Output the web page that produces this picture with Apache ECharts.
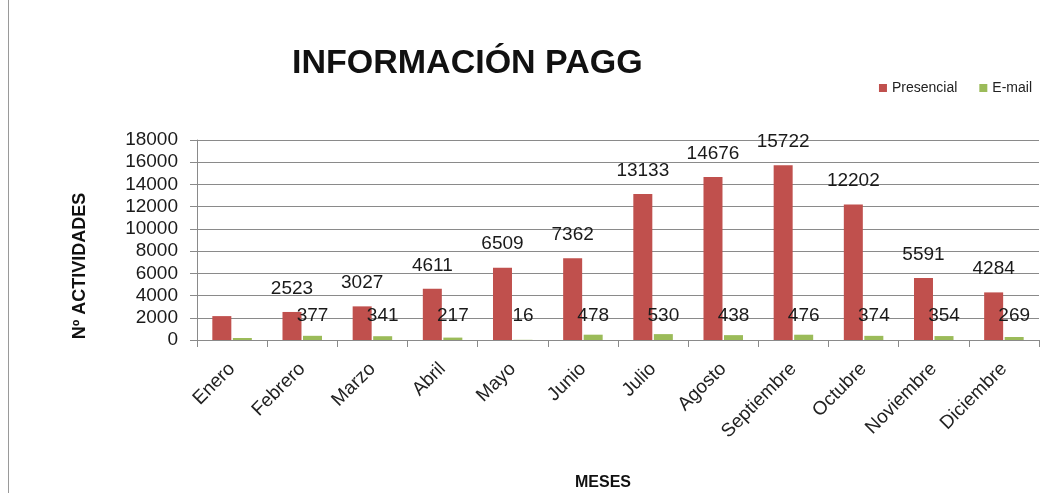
<!DOCTYPE html>
<html>
<head>
<meta charset="utf-8">
<script src="https://cdn.jsdelivr.net/npm/echarts@6/dist/echarts.min.js"></script>
<style>
  html, body { margin: 0; padding: 0; background: #fff; }
  #chart { width: 1061px; height: 493px; }
</style>
</head>
<body>
<div id="chart"></div>
<script>
// monthly activities
const months = ["Enero", "Febrero", "Marzo", "Abril", "Mayo", "Junio", "Julio",
  "Agosto", "Septiembre", "Octubre", "Noviembre", "Diciembre"];
const presencial = [2150, 2523, 3027, 4611, 6509, 7362, 13133, 14676, 15722, 12202, 5591, 4284];
const email = [180, 377, 341, 217, 16, 478, 530, 438, 476, 374, 354, 269];
// Enero has no labels in the original
const hideLabel = [true, false, false, false, false, false, false, false, false, false, false, false];

const font = "Liberation Sans, Arial, sans-serif";

function withLabels(values) {
  return values.map((v, i) => hideLabel[i] ? { value: v, label: { show: false } } : v);
}

let chart = echarts.init(document.getElementById("chart"));
chart.setOption({
  animation: false,
  textStyle: { fontFamily: font },
  title: {
    text: "INFORMACIÓN PAGG",
    left: 287,
    top: 42,
    textStyle: { fontSize: 34, fontWeight: "bold", color: "#111", fontFamily: font }
  },
  legend: {
    right: 24,
    top: 76,
    itemWidth: 8,
    itemHeight: 8,
    itemGap: 22,
    icon: "rect",
    textStyle: { fontSize: 14, color: "#222", fontFamily: font },
    data: ["Presencial", "E-mail"]
  },
  grid: { left: 197, right: 22, top: 140, bottom: 153, containLabel: false },
  xAxis: {
    type: "category",
    data: months,
    axisLine: { lineStyle: { color: "#8a8a8a", width: 1 } },
    axisTick: { show: true, length: 7, lineStyle: { color: "#8a8a8a" } },
    axisLabel: { rotate: 45, fontSize: 19, color: "#222", margin: 26, fontFamily: font, interval: 0 }
  },
  yAxis: {
    type: "value",
    min: 0,
    max: 18000,
    interval: 2000,
    axisLine: { show: true, lineStyle: { color: "#8a8a8a", width: 1 } },
    axisTick: { show: true, length: 7, lineStyle: { color: "#8a8a8a" } },
    splitLine: { lineStyle: { color: "#8a8a8a", width: 1 } },
    axisLabel: { fontSize: 19, color: "#1a1a1a", margin: 19, fontFamily: font, formatter: v => String(v) }
  },
  graphic: [
    {
      type: "line",
      shape: { x1: 8.5, y1: 0, x2: 8.5, y2: 493 },
      style: { stroke: "#9a9a9a", lineWidth: 1 }
    },
    {
      type: "text",
      x: 80,
      y: 266,
      rotation: Math.PI / 2,
      style: {
        text: "Nº ACTIVIDADES",
        font: "bold 18px " + font,
        fill: "#111",
        textAlign: "center",
        textVerticalAlign: "middle"
      }
    },
    {
      type: "text",
      x: 603,
      y: 483,
      style: {
        text: "MESES",
        font: "bold 16px " + font,
        fill: "#111",
        textAlign: "center",
        textVerticalAlign: "middle"
      }
    }
  ],
  series: [
    {
      name: "Presencial",
      type: "bar",
      data: withLabels(presencial),
      barWidth: 19,
      barGap: "8%",
      itemStyle: { color: "#C0504D" },
      label: { show: true, position: "top", distance: 14, fontSize: 19, color: "#1a1a1a", fontFamily: font }
    },
    {
      name: "E-mail",
      type: "bar",
      data: withLabels(email),
      barWidth: 19,
      itemStyle: { color: "#9BBB59" },
      label: {
        show: true,
        position: "insideBottom",
        offset: [0, -10],
        fontSize: 19,
        color: "#1a1a1a",
        fontFamily: font
      }
    }
  ]
});
</script>
</body>
</html>
